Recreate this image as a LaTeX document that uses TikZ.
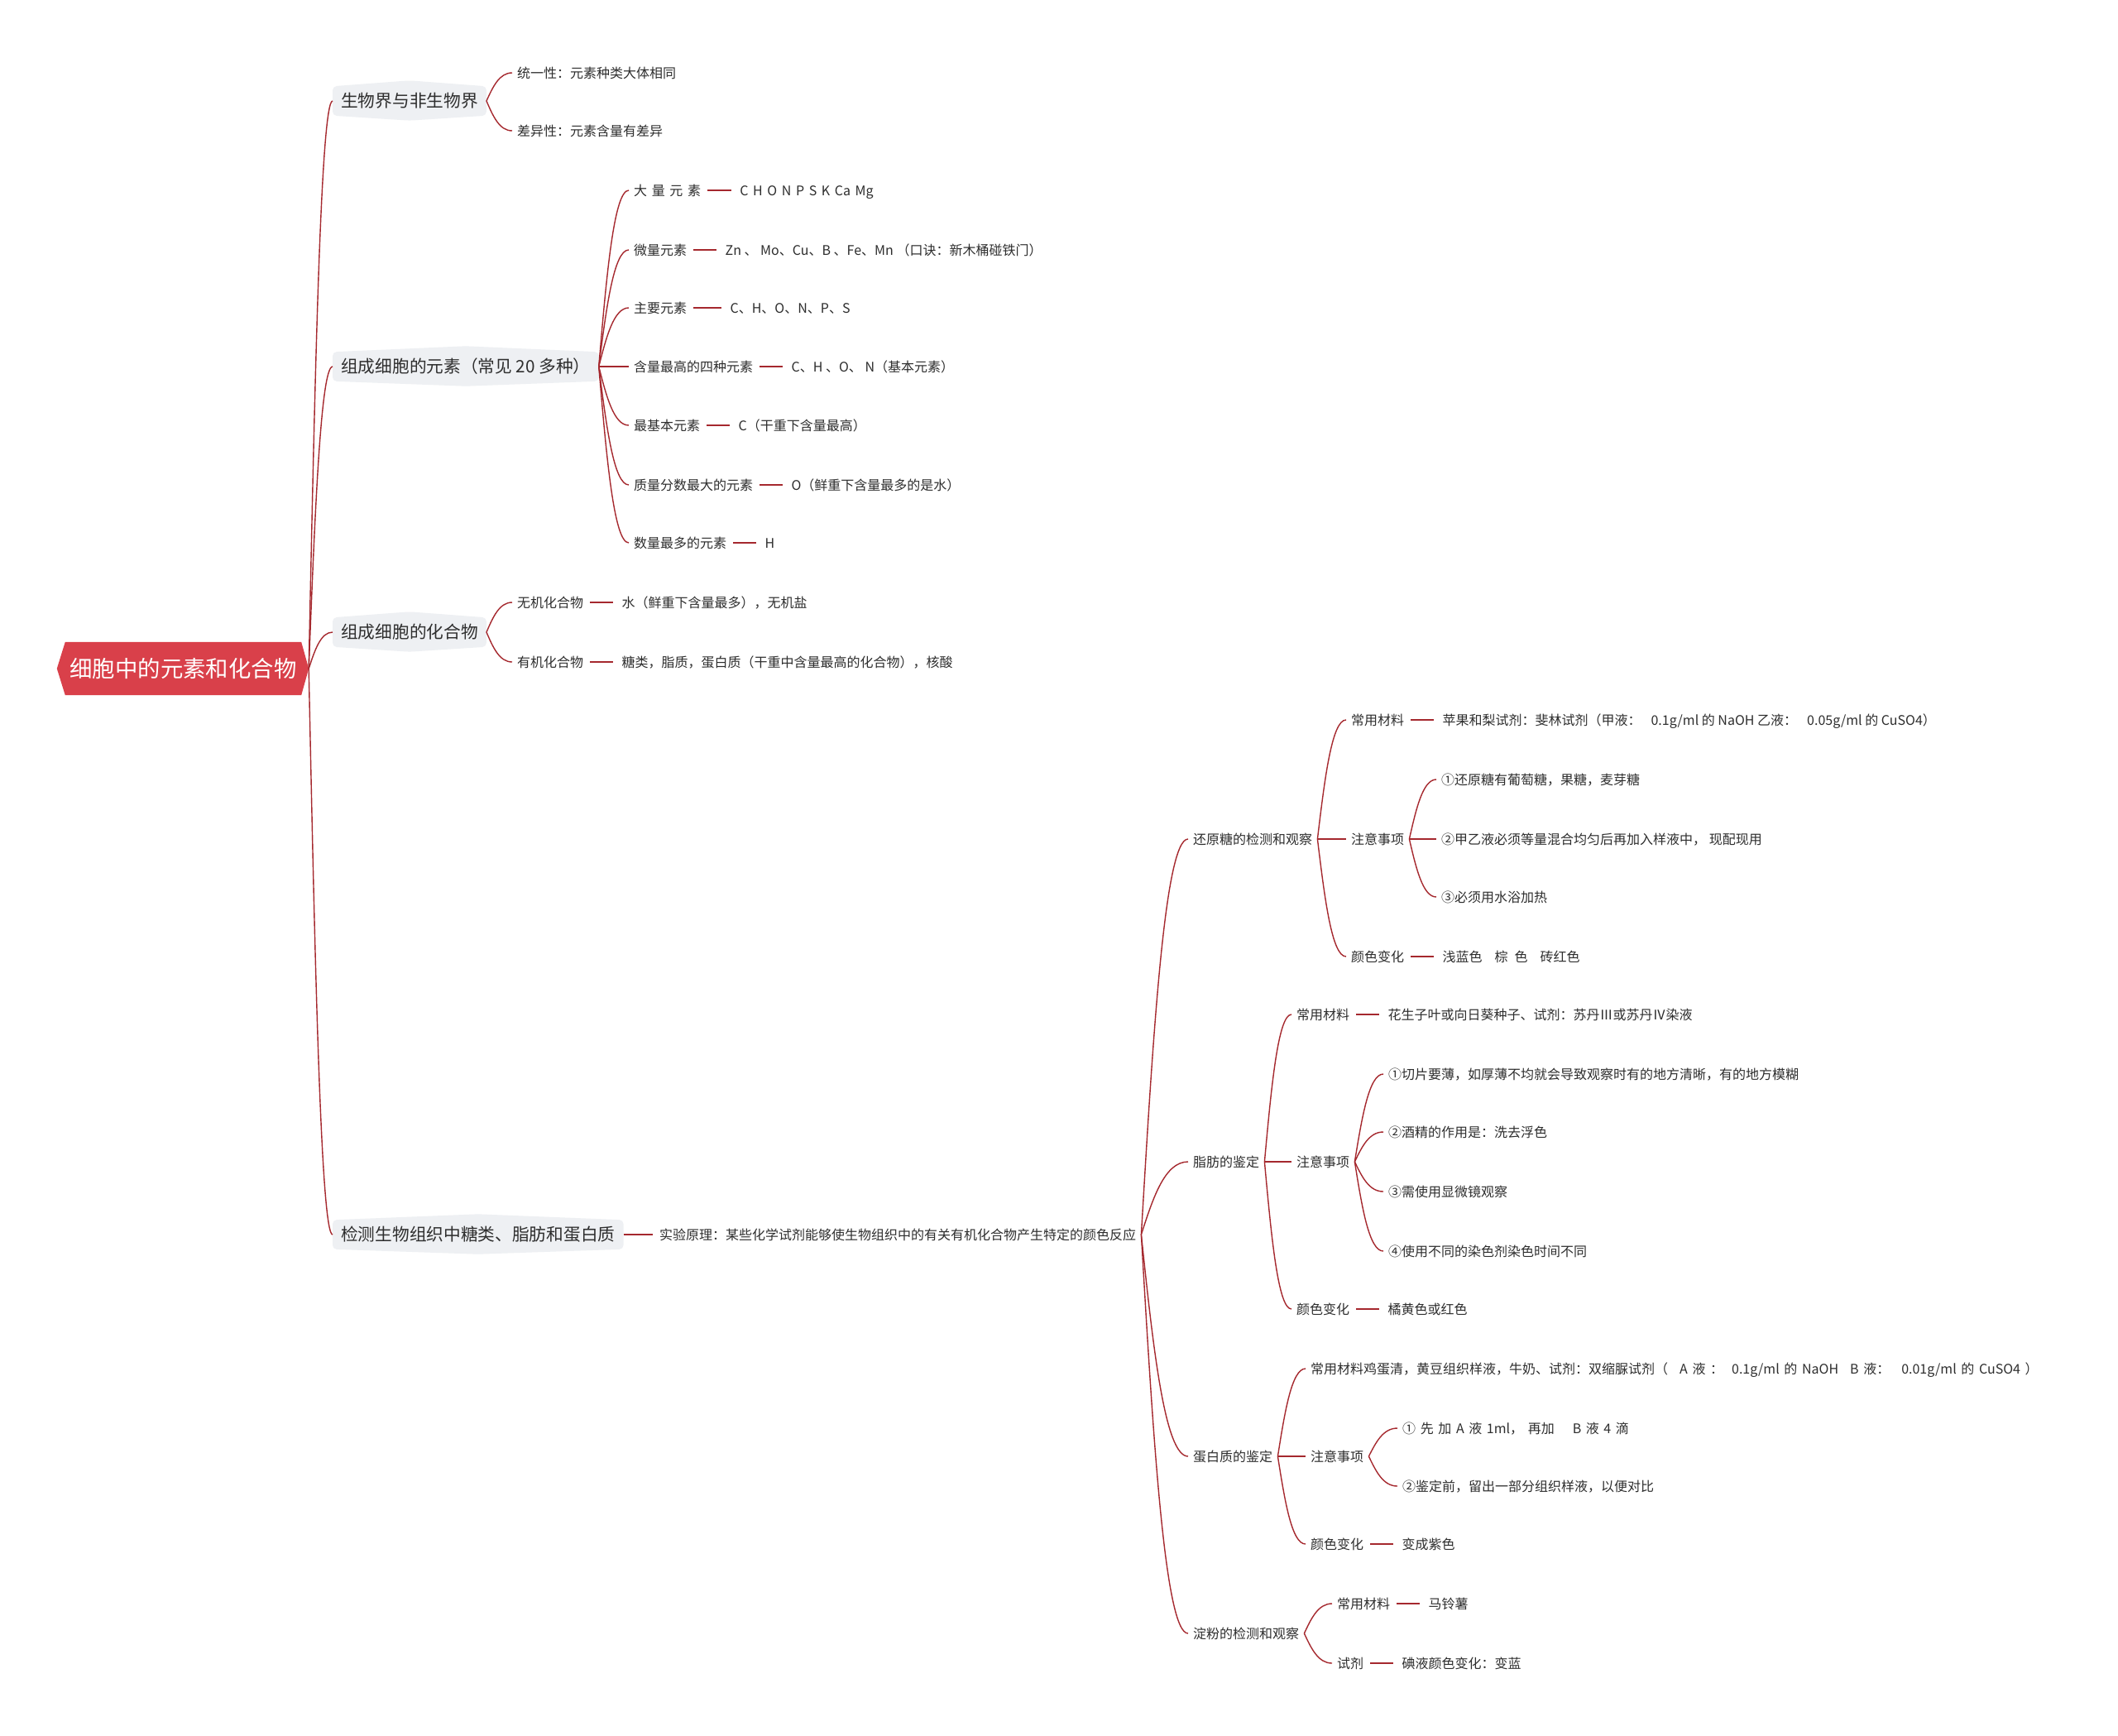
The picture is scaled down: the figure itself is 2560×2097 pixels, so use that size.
\documentclass[tikz,border=0pt]{standalone}
\usepackage{fontspec}
\setmainfont{Noto Sans CJK SC}
\usetikzlibrary{positioning,calc,backgrounds}
\definecolor{linkc}{HTML}{A5282E}
\definecolor{rootc}{HTML}{D9404A}
\definecolor{lonec}{HTML}{EEF0F3}
\definecolor{txtc}{HTML}{2E2E2E}
\newcommand\brcg[2]{\draw[lnk] let \p1=(#1), \p2=(#2) in (\p1) .. controls (0.75*\x1+0.25*\x2,0.5*\y1+0.5*\y2) and (0.5*\x1+0.5*\x2,\y2) .. (\p2);}
\newcommand\brc[2]{\brcg{[xshift=6pt]#1.east}{[xshift=-6pt]#2.west}}
\newcommand\lnkto[2]{\draw[barline] ([xshift=8pt]#1.east) -- ([xshift=-10pt]#2.west);}
\newcommand\lonebg[1]{\fill[lonec, rounded corners=5pt] (#1.north west) -- ([yshift=7pt]#1.north) -- (#1.north east) -- (#1.south east) -- ([yshift=-6pt]#1.south) -- (#1.south west) -- cycle;}
\newcommand\hs{\hspace{5.6pt}}
\begin{document}
\begin{tikzpicture}[x=1pt,y=-1pt,
  lnk/.style={draw=linkc, line width=1.4pt},
  barline/.style={draw=linkc, line width=1.7pt},
  tx/.style={anchor=west, inner sep=0pt, text height=13pt, text depth=1pt, font=\fontsize{16}{19}\selectfont, text=txtc},
  lone/.style={anchor=west, inner xsep=10pt, inner ysep=0pt, minimum height=35pt, text height=17pt, text depth=1.2pt, font=\fontsize{20.7}{24}\selectfont, text=txtc},
  rootn/.style={inner sep=0pt, minimum width=285pt, minimum height=64pt, text height=22pt, text depth=1.2pt, font=\fontsize{27.4}{32}\selectfont, text=white}
]
\useasboundingbox (0,0) rectangle (2560,2097);

% root
\node[rootn] (root) at (221.5,808) {细胞中的元素和化合物};
\coordinate (rootpt) at ([xshift=9pt]root.east);

% level 1
\node[lone] (a1) at (402,122) {生物界与非生物界};
\node[lone] (a2) at (402,443) {组成细胞的元素（常见 20 多种）};
\node[lone] (a3) at (402,764) {组成细胞的化合物};
\node[lone] (a4) at (402,1492) {检测生物组织中糖类、脂肪和蛋白质};
\foreach \q in {a1,a2,a3,a4} {\brcg{rootpt}{\q.west}}

% a1
\node[tx] (b11) at (625,88) {统一性：元素种类大体相同};
\node[tx] (b12) at (625,158) {差异性：元素含量有差异};
\foreach \q in {b11,b12} {\brcg{a1.east}{[xshift=-6pt]\q.west}}

% a2
\node[tx] (c1) at (766,230) {大\hs 量\hs 元\hs 素};
\node[tx] (c2) at (766,302) {微量元素};
\node[tx] (c3) at (766,372) {主要元素};
\node[tx] (c4) at (766,443) {含量最高的四种元素};
\node[tx] (c5) at (766,514) {最基本元素};
\node[tx] (c6) at (766,586) {质量分数最大的元素};
\node[tx] (c7) at (766,656) {数量最多的元素};
\foreach \q in {c1,c2,c3,c4,c5,c6,c7} {\brcg{a2.east}{[xshift=-6pt]\q.west}}
\node[tx, right=47pt of c1] (c1v) {C\hs H\hs O\hs N\hs P\hs S\hs K\hs Ca\hs Mg};
\node[tx, right=46pt of c2] (c2v) {Zn 、 Mo、Cu、B 、Fe、Mn （口诀：新木桶碰铁门）};
\node[tx, right=52pt of c3] (c3v) {C、H、O、N、P、S};
\node[tx, right=46pt of c4] (c4v) {C、H 、O、 N（基本元素）};
\node[tx, right=46pt of c5] (c5v) {C（干重下含量最高）};
\node[tx, right=46pt of c6] (c6v) {O（鲜重下含量最多的是水）};
\node[tx, right=46pt of c7] (c7v) {H};
\foreach \q in {c1,c2,c3,c4,c5,c6,c7} {\lnkto{\q}{\q v}}

% a3
\node[tx] (d1) at (625,728) {无机化合物};
\node[tx] (d2) at (625,800) {有机化合物};
\foreach \q in {d1,d2} {\brcg{a3.east}{[xshift=-6pt]\q.west}}
\node[tx, right=46pt of d1] (d1v) {水（鲜重下含量最多），无机盐};
\node[tx, right=46pt of d2] (d2v) {糖类，脂质，蛋白质（干重中含量最高的化合物），核酸};
\lnkto{d1}{d1v}
\lnkto{d2}{d2v}

% a4
\node[tx] (e0) at (797,1492) {实验原理：某些化学试剂能够使生物组织中的有关有机化合物产生特定的颜色反应};
\draw[barline] (a4.east) -- ([xshift=-8pt]e0.west);

\node[tx] (f1) at (1442,1014) {还原糖的检测和观察};
\node[tx] (f2) at (1442,1404) {脂肪的鉴定};
\node[tx] (f3) at (1442,1760) {蛋白质的鉴定};
\node[tx] (f4) at (1442,1974) {淀粉的检测和观察};
\foreach \q in {f1,f2,f3,f4} {\brc{e0}{\q}}

% f1 reducing sugar
\node[tx] (g1) at (1633,870) {常用材料};
\node[tx] (g2) at (1633,1014) {注意事项};
\node[tx] (g3) at (1633,1156) {颜色变化};
\foreach \q in {g1,g2,g3} {\brc{f1}{\q}}
\node[tx, right=46pt of g1] (g1v) {苹果和梨试剂：斐林试剂（甲液：\hspace{12pt}0.1g/ml 的 NaOH 乙液：\hspace{12pt}0.05g/ml 的 CuSO4）};
\node[tx, right=46pt of g3] (g3v) {浅蓝色\hspace{15pt}棕\hspace{8pt}色\hspace{15pt}砖红色};
\lnkto{g1}{g1v}
\lnkto{g3}{g3v}
\node[tx] (h1) at (1742,942) {①还原糖有葡萄糖，果糖，麦芽糖};
\node[tx] (h2) at (1742,1014) {②甲乙液必须等量混合均匀后再加入样液中， 现配现用};
\node[tx] (h3) at (1742,1084) {③必须用水浴加热};
\foreach \q in {h1,h2,h3} {\brc{g2}{\q}}

% f2 fat
\node[tx] (i1) at (1567,1226) {常用材料};
\node[tx] (i2) at (1567,1404) {注意事项};
\node[tx] (i3) at (1567,1582) {颜色变化};
\foreach \q in {i1,i2,i3} {\brc{f2}{\q}}
\node[tx, right=46pt of i1] (i1v) {花生子叶或向日葵种子、试剂：苏丹Ⅲ或苏丹Ⅳ染液};
\node[tx, right=46pt of i3] (i3v) {橘黄色或红色};
\lnkto{i1}{i1v}
\lnkto{i3}{i3v}
\node[tx] (j1) at (1678,1298) {①切片要薄，如厚薄不均就会导致观察时有的地方清晰，有的地方模糊};
\node[tx] (j2) at (1678,1368) {②酒精的作用是：洗去浮色};
\node[tx] (j3) at (1678,1440) {③需使用显微镜观察};
\node[tx] (j4) at (1678,1512) {④使用不同的染色剂染色时间不同};
\foreach \q in {j1,j2,j3,j4} {\brc{i2}{\q}}

% f3 protein
\node[tx] (k1) at (1584,1654) {常用材料鸡蛋清，黄豆组织样液，牛奶、试剂：双缩脲试剂（\hspace{14pt}A\hs 液\hs ：\hspace{10pt}0.1g/ml\hs 的\hs NaOH\hspace{14pt}B\hs 液：\hspace{14pt}0.01g/ml\hs 的\hs CuSO4\hs ）};
\node[tx] (k2) at (1584,1760) {注意事项};
\node[tx] (k3) at (1584,1866) {颜色变化};
\foreach \q in {k1,k2,k3} {\brc{f3}{\q}}
\node[tx, right=46pt of k3] (k3v) {变成紫色};
\lnkto{k3}{k3v}
\node[tx] (l1) at (1695,1726) {①\hs 先\hs 加\hs A\hs 液\hs 1ml，\hs 再加\hspace{22pt}B\hs 液\hs 4\hs 滴};
\node[tx] (l2) at (1695,1796) {②鉴定前，留出一部分组织样液，以便对比};
\foreach \q in {l1,l2} {\brc{k2}{\q}}

% f4 starch
\node[tx] (m1) at (1616,1938) {常用材料};
\node[tx] (m2) at (1616,2010) {试剂};
\foreach \q in {m1,m2} {\brc{f4}{\q}}
\node[tx, right=46pt of m1] (m1v) {马铃薯};
\node[tx, right=46pt of m2] (m2v) {碘液颜色变化：变蓝};
\lnkto{m1}{m1v}
\lnkto{m2}{m2v}

\begin{scope}[on background layer]
\fill[white] (0,0) rectangle (2560,2097);
\fill[rootc] (root.north west) -- ([xshift=-10pt]root.west) -- (root.south west) -- (root.south east) -- (rootpt) -- (root.north east) -- cycle;
\lonebg{a1}
\lonebg{a2}
\lonebg{a3}
\lonebg{a4}
\end{scope}
\end{tikzpicture}
\end{document}
